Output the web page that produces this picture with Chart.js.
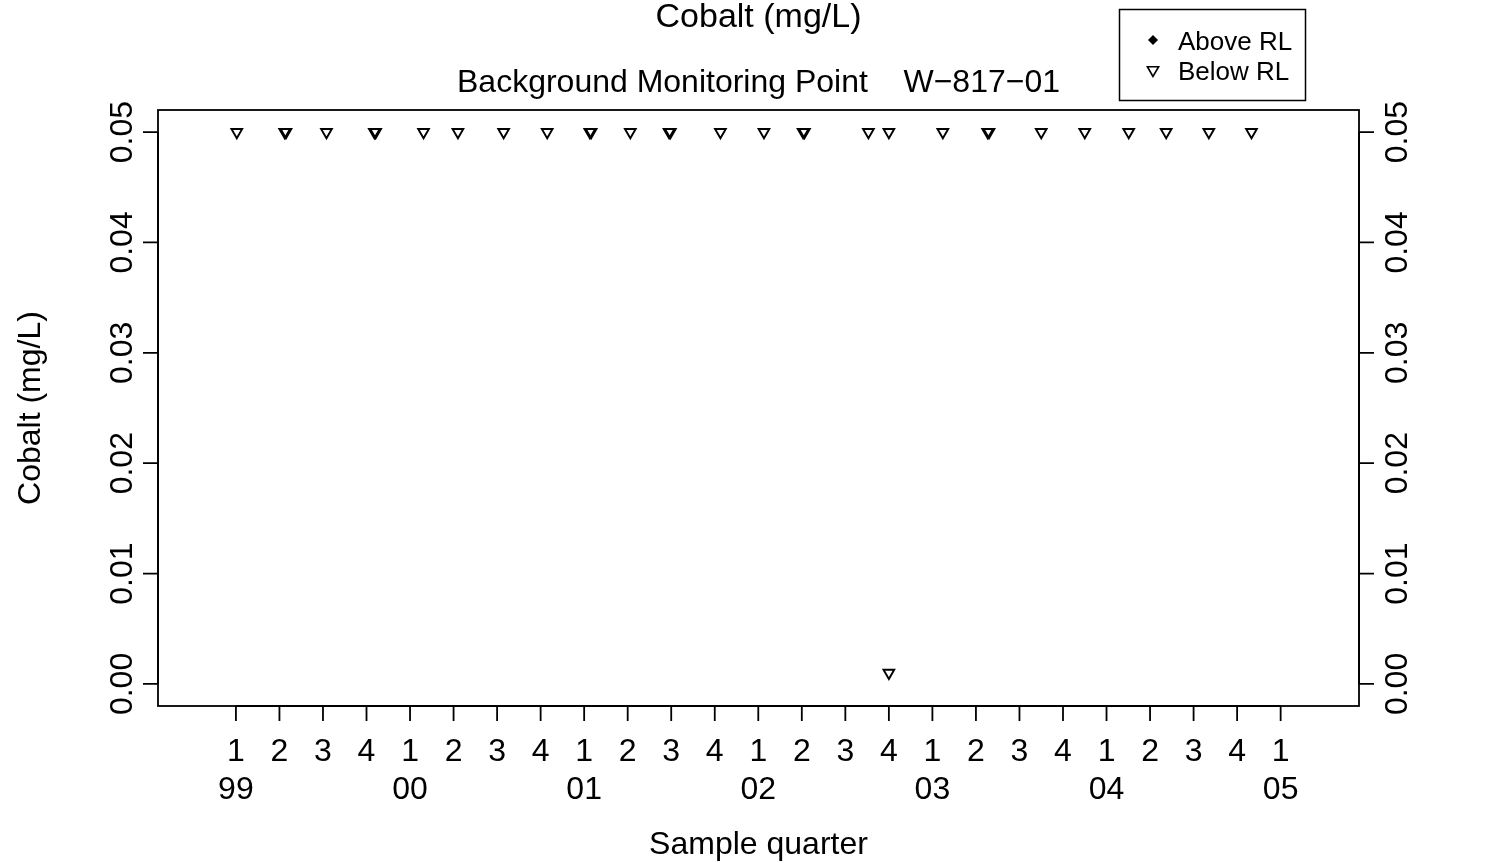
<!DOCTYPE html>
<html><head><meta charset="utf-8">
<script src="https://cdn.jsdelivr.net/npm/chart.js@4.4.1/dist/chart.umd.min.js"></script>
<style>html,body{margin:0;padding:0;background:#fff;overflow:hidden;}#wrap{width:1486px;height:863px;}</style>
</head><body><div id="wrap"><canvas id="c" width="1486" height="863"></canvas></div>
<script>
// ---- data ----
const chartTitle = "Cobalt (mg/L)";
const subTitle = "Background Monitoring Point    W\u2212817\u221201";
const xAxisTitle = "Sample quarter";
const yAxisTitle = "Cobalt (mg/L)";
const legendLabels = ["Above RL", "Below RL"];

// x ticks: quarters counted from 1999 Q1 (= 0)
const quarterTicks = [0,1,2,3,4,5,6,7,8,9,10,11,12,13,14,15,16,17,18,19,20,21,22,23,24];
const quarterLabels = ["1","2","3","4","1","2","3","4","1","2","3","4","1","2","3","4","1","2","3","4","1","2","3","4","1"];
const yearLabels = ["99","","","","00","","","","01","","","","02","","","","03","","","","04","","","","05"];

const yTicks = [0, 0.01, 0.02, 0.03, 0.04, 0.05];
const yTickLabels = ["0.00", "0.01", "0.02", "0.03", "0.04", "0.05"];

// samples: time in quarters since 1999 Q1, cobalt (mg/L), detected above RL?
const sampleTimes = [0.02, 1.12, 1.15, 2.08, 3.18, 3.21, 4.31, 5.10, 6.15, 7.15, 8.13, 8.16, 9.06, 9.95, 9.98,
                     11.13, 12.13, 13.03, 13.06, 14.53, 15.00, 15.00, 16.24, 17.27, 17.30, 18.50, 19.50, 20.51,
                     21.37, 22.35, 23.33];
const cobaltValues = [0.05, 0.05, 0.05, 0.05, 0.05, 0.05, 0.05, 0.05, 0.05, 0.05, 0.05, 0.05, 0.05, 0.05, 0.05,
                      0.05, 0.05, 0.05, 0.05, 0.05, 0.05, 0.001, 0.05, 0.05, 0.05, 0.05, 0.05, 0.05,
                      0.05, 0.05, 0.05];
const aboveRL = [false, false, false, false, false, false, false, false, false, false, false, false, false, false, false,
                 false, false, false, false, false, false, false, false, false, false, false, false, false,
                 false, false, false];

const xMin = -1.79, xMax = 25.80;
const yMin = -0.002, yMax = 0.052;

// ---- build datasets ----
const abovePts = [], belowPts = [];
sampleTimes.forEach((t, i) => {
  (aboveRL[i] ? abovePts : belowPts).push({ x: t, y: cobaltValues[i] });
});

const FONT = "'Liberation Sans', Arial, Helvetica, sans-serif";
const TICK = 15;
const LW = 1.8;

function drawTri(ctx, x, y, r) {
  let rad = Math.PI;
  ctx.beginPath();
  ctx.moveTo(x + Math.sin(rad) * r, y - Math.cos(rad) * r);
  rad += 2 * Math.PI / 3;
  ctx.lineTo(x + Math.sin(rad) * r, y - Math.cos(rad) * r);
  rad += 2 * Math.PI / 3;
  ctx.lineTo(x + Math.sin(rad) * r, y - Math.cos(rad) * r);
  ctx.closePath();
  ctx.stroke();
}

const rPlot = {
  id: 'rPlot',
  beforeDatasetsDraw(chart) {
    const { ctx, chartArea: a } = chart;
    ctx.save();
    ctx.strokeStyle = '#000';
    ctx.lineWidth = LW;
    ctx.strokeRect(a.left, a.top, a.right - a.left, a.bottom - a.top);
    ctx.restore();
  },
  afterDraw(chart) {
    const { ctx, chartArea: a, scales } = chart;
    const xs = scales.x, ys = scales.y;
    ctx.save();
    ctx.strokeStyle = '#000';
    ctx.fillStyle = '#000';
    ctx.lineWidth = LW;

    // x axis
    ctx.beginPath();
    ctx.moveTo(xs.getPixelForValue(quarterTicks[0]), a.bottom);
    ctx.lineTo(xs.getPixelForValue(quarterTicks[quarterTicks.length - 1]), a.bottom);
    quarterTicks.forEach(q => {
      const px = xs.getPixelForValue(q);
      ctx.moveTo(px, a.bottom);
      ctx.lineTo(px, a.bottom + TICK);
    });
    ctx.stroke();
    ctx.font = "32px " + FONT;
    ctx.textAlign = 'center';
    ctx.textBaseline = 'alphabetic';
    quarterTicks.forEach((q, i) => {
      const px = xs.getPixelForValue(q);
      ctx.fillText(quarterLabels[i], px, 761);
      if (yearLabels[i]) ctx.fillText(yearLabels[i], px, 799);
    });

    // y axes (left & right)
    ctx.beginPath();
    [a.left, a.right].forEach(edge => {
      ctx.moveTo(edge, ys.getPixelForValue(yTicks[0]));
      ctx.lineTo(edge, ys.getPixelForValue(yTicks[yTicks.length - 1]));
    });
    yTicks.forEach(v => {
      const py = ys.getPixelForValue(v);
      ctx.moveTo(a.left, py); ctx.lineTo(a.left - TICK, py);
      ctx.moveTo(a.right, py); ctx.lineTo(a.right + TICK, py);
    });
    ctx.stroke();
    yTicks.forEach((v, i) => {
      const py = ys.getPixelForValue(v);
      [132, 1407].forEach(bx => {
        ctx.save();
        ctx.translate(bx, py);
        ctx.rotate(-Math.PI / 2);
        ctx.fillText(yTickLabels[i], 0, 0);
        ctx.restore();
      });
    });

    // titles
    const cx = (a.left + a.right) / 2;
    ctx.font = "34px " + FONT;
    ctx.fillText(chartTitle, cx, 27);
    ctx.font = "32px " + FONT;
    ctx.fillText(subTitle, cx, 92);
    ctx.fillText(xAxisTitle, cx, 854);
    ctx.save();
    ctx.translate(40, (a.top + a.bottom) / 2);
    ctx.rotate(-Math.PI / 2);
    ctx.fillText(yAxisTitle, 0, 0);
    ctx.restore();

    // legend
    ctx.lineWidth = 1.5;
    ctx.strokeRect(1119.5, 9.5, 186, 91);
    ctx.beginPath();
    const dx = 1153, d1 = 40, dr = 5;
    ctx.moveTo(dx, d1 - dr); ctx.lineTo(dx + dr, d1); ctx.lineTo(dx, d1 + dr); ctx.lineTo(dx - dr, d1);
    ctx.closePath();
    ctx.fill();
    ctx.lineWidth = 1.6;
    drawTri(ctx, 1153, 70, 6.5);
    ctx.font = "26px " + FONT;
    ctx.textAlign = 'left';
    ctx.fillText(legendLabels[0], 1178, 49.5);
    ctx.fillText(legendLabels[1], 1178, 79.5);
    ctx.restore();
  }
};

new Chart(document.getElementById('c'), {
  type: 'scatter',
  data: {
    datasets: [
      { label: legendLabels[0], data: abovePts, pointStyle: 'rectRot', pointRadius: 5,
        backgroundColor: '#000', borderColor: '#000', borderWidth: 1 },
      { label: legendLabels[1], data: belowPts, pointStyle: 'triangle', pointRotation: 180, pointRadius: 6.2,
        backgroundColor: 'rgba(0,0,0,0)', borderColor: '#000', borderWidth: 1.9 }
    ]
  },
  options: {
    responsive: false,
    animation: false,
    events: [],
    layout: { padding: { left: 158, right: 127, top: 110, bottom: 157 } },
    scales: {
      x: { type: 'linear', min: xMin, max: xMax, display: false },
      y: { type: 'linear', min: yMin, max: yMax, display: false }
    },
    plugins: { legend: { display: false }, tooltip: { enabled: false }, title: { display: false } }
  },
  plugins: [rPlot]
});
</script>
</body></html>
